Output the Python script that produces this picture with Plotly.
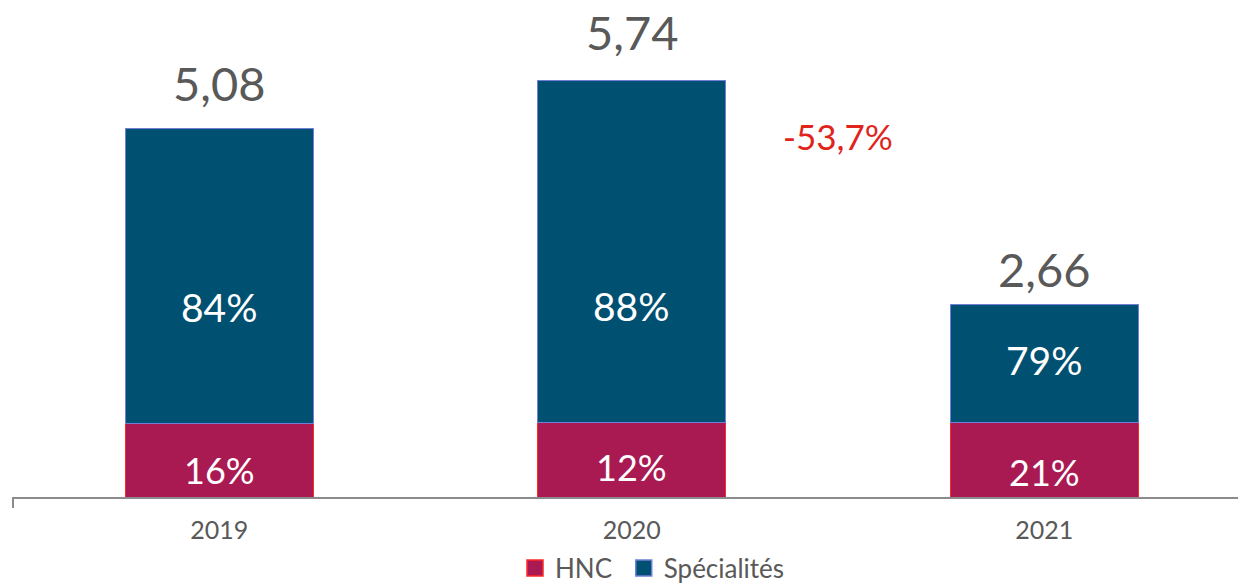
import plotly.graph_objects as go

years = ["2019", "2020", "2021"]
totals = [5.08, 5.74, 2.66]
total_labels = ["5,08", "5,74", "2,66"]
hnc_values = [1.01, 1.02, 1.02]
spec_values = [4.07, 4.72, 1.64]         # total - HNC
hnc_pct = ["16%", "12%", "21%"]
spec_pct = ["84%", "88%", "79%"]
change_label = "-53,7%"
series_names = ["HNC", "Spécialités"]

FONT = "Lato"
GRAY = "#595959"
C_HNC = "#a91a52"
C_SPEC = "#005072"

fig = go.Figure()
fig.add_trace(go.Bar(x=years, y=hnc_values, name=series_names[0], marker=dict(color=C_HNC, line=dict(color="#ff2a2a", width=1)),
                     width=0.456, showlegend=False, hoverinfo="skip"))
fig.add_trace(go.Bar(x=years, y=spec_values, name=series_names[1], marker=dict(color=C_SPEC, line=dict(color="#6f80d6", width=1)),
                     width=0.456, showlegend=False, hoverinfo="skip"))
fig.add_trace(go.Scatter(x=[None], y=[None], mode="markers", name=series_names[0] + "\u00a0",
                         marker=dict(symbol="square", size=16, color=C_HNC, line=dict(color="#ff2a2a", width=1.5))))
fig.add_trace(go.Scatter(x=[None], y=[None], mode="markers", name=series_names[1],
                         marker=dict(symbol="square", size=16, color=C_SPEC, line=dict(color="#6f80d6", width=1.5))))

annotations = []
total_label_shift = [45, 49, 35]
spec_label_shift = [-31, -54, 4]
hnc_label_shift = [-10, -7, -12]
for i, yr in enumerate(years):
    annotations.append(dict(x=i, y=totals[i], text=total_labels[i], showarrow=False, yanchor="middle",
                            yshift=total_label_shift[i], font=dict(family=FONT, size=47, color=GRAY)))
    annotations.append(dict(x=i, y=hnc_values[i] + spec_values[i] / 2, text=spec_pct[i], showarrow=False,
                            yanchor="middle", yshift=spec_label_shift[i], font=dict(family=FONT, size=39, color="white")))
    annotations.append(dict(x=i, y=hnc_values[i] / 2, text=hnc_pct[i], showarrow=False,
                            yanchor="middle", yshift=hnc_label_shift[i], font=dict(family=FONT, size=36, color="white")))
annotations.append(dict(x=1.5, y=4.95, text=change_label, showarrow=False, yanchor="middle", yshift=2,
                        font=dict(family=FONT, size=35, color="#e0241b")))

fig.update_layout(
    width=1238, height=583,
    margin=dict(l=13, r=0, t=0, b=86),
    barmode="stack",
    plot_bgcolor="white", paper_bgcolor="white",
    font=dict(family=FONT, color=GRAY),
    xaxis=dict(type="category", range=[-0.5, 2.47], showline=True, linecolor="#8c8c8c", linewidth=2,
               showgrid=False, ticks="", tickfont=dict(family=FONT, size=25, color=GRAY), ticklabelstandoff=10),
    yaxis=dict(range=[0, 6.85], visible=False, showgrid=False, zeroline=False),
    legend=dict(orientation="h", xref="container", yref="container", x=0.416, xanchor="left",
                y=1 - 568 / 583, yanchor="middle", traceorder="normal",
                font=dict(family=FONT, size=26, color=GRAY), itemsizing="trace", tracegroupgap=0),
    annotations=annotations,
    shapes=[dict(type="line", xref="paper", yref="paper", x0=0, x1=0, y0=0, y1=-0.022,
                 line=dict(color="#8c8c8c", width=2))],
)

post = ("document.body.style.margin='0';document.body.style.overflow='hidden';"
        "var gd=document.getElementById('{plot_id}');"
        "gd.style.position='fixed';gd.style.left='0px';gd.style.top='0px';"
        "Plotly.relayout(gd,{width:1238,height:583});")
fig.write_html("out.html", post_script=post, config={"displayModeBar": False})
